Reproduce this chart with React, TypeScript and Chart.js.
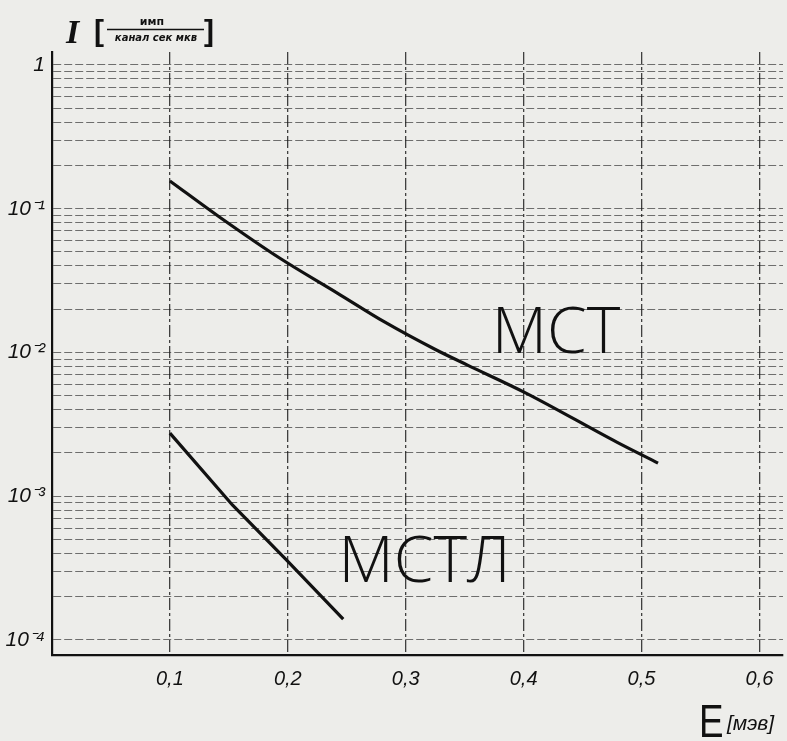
import React, { useEffect, useRef } from 'react';
import { Chart, registerables } from 'chart.js';

Chart.register(...registerables);

// MCT curve (energy E in MeV, intensity I)
const mctE = [0.1, 0.142, 0.193, 0.242, 0.282, 0.326, 0.352, 0.402, 0.479, 0.514];
const mctI = [0.156, 0.0876, 0.0454, 0.0259, 0.0163, 0.0104, 0.0082, 0.00522, 0.00238, 0.0017];
// MCTЛ curve
const mctlE = [0.1, 0.153, 0.199, 0.247];
const mctlI = [0.00275, 0.00087, 0.00036, 0.00014];

const seriesNames = ['МСТ', 'МСТЛ'];
// label anchors (left/bottom) in data coordinates
const labelE = [0.373, 0.243];
const labelI = [0.0099, 0.000253];

const xTicks = [0.1, 0.2, 0.3, 0.4, 0.5, 0.6];
const yDecades = [1, 0.1, 0.01, 0.001, 0.0001];
const yDecadeLabels = ['1', '10⁻¹', '10⁻²', '10⁻³', '10⁻⁴'];

const xTitleMain = 'E';
const xTitleUnit = '[мэв]';
const yTitleMain = 'I';
const yTitleNum = 'имп';
const yTitleDen = 'канал сек мкв';

const X_MIN = 0;
const X_MAX = 0.62;
const Y_MIN = 7.87e-5;
const Y_MAX = 1.23;

function yGridValues(): number[] {
  const vals: number[] = [];
  for (let e = -4; e <= 0; e++) {
    for (let m = 1; m <= 9; m++) {
      const v = m * Math.pow(10, e);
      if (v >= 1e-4 && v <= 1.0000001) vals.push(v);
    }
  }
  return vals;
}

const bgPlugin = {
  id: 'paperBg',
  beforeDraw(chart: any) {
    const { ctx, width, height } = chart;
    ctx.save();
    ctx.fillStyle = '#ededea';
    ctx.fillRect(0, 0, width, height);
    ctx.restore();
  },
};

const textPlugin = {
  id: 'texts',
  afterDraw(chart: any) {
    const { ctx } = chart;
    const xs = chart.scales.x;
    const ys = chart.scales.y;
    ctx.save();
    ctx.fillStyle = '#111';
    ctx.strokeStyle = '#111';
    // curve labels
    ctx.textBaseline = 'alphabetic';
    ctx.textAlign = 'left';
    ctx.font = '300 64px "Open Sans", "Lato", sans-serif';
    seriesNames.forEach((name, i) => {
      ctx.fillText(name, xs.getPixelForValue(labelE[i]), ys.getPixelForValue(labelI[i]));
    });

    // y axis title
    ctx.font = 'italic bold 34px "Liberation Serif", serif';
    ctx.fillText(yTitleMain, 66, 43);
    ctx.font = 'bold 30px "Liberation Sans", sans-serif';
    ctx.fillText('[', 94, 41);
    ctx.fillText(']', 204, 41);
    ctx.textAlign = 'center';
    ctx.font = 'bold 11px "DejaVu Sans", sans-serif';
    ctx.fillText(yTitleNum, 152, 25);
    ctx.font = 'bold italic 10px "DejaVu Sans", sans-serif';
    ctx.fillText(yTitleDen, 156, 41);
    ctx.lineWidth = 1.5;
    ctx.beginPath();
    ctx.moveTo(107, 29.5);
    ctx.lineTo(204, 29.5);
    ctx.stroke();

    // x axis title
    ctx.textAlign = 'left';
    ctx.save();
    ctx.translate(699, 737);
    ctx.scale(0.8, 1);
    ctx.font = '46px "Liberation Sans", sans-serif';
    ctx.fillText(xTitleMain, 0, 0);
    ctx.restore();
    ctx.font = 'italic 21px "Liberation Sans", sans-serif';
    ctx.fillText(xTitleUnit, 727, 730);
    ctx.restore();
  },
};

export default function App() {
  const ref = useRef<HTMLCanvasElement | null>(null);

  useEffect(() => {
    if (!ref.current) return;
    const chart = new Chart(ref.current, {
      type: 'scatter',
      data: {
        datasets: [
          {
            label: seriesNames[0],
            data: mctE.map((e, i) => ({ x: e, y: mctI[i] })),
            showLine: true,
            borderColor: '#111',
            borderWidth: 3.2,
            pointRadius: 0,
            cubicInterpolationMode: 'monotone',
          },
          {
            label: seriesNames[1],
            data: mctlE.map((e, i) => ({ x: e, y: mctlI[i] })),
            showLine: true,
            borderColor: '#111',
            borderWidth: 3.2,
            pointRadius: 0,
            tension: 0,
          },
        ],
      },
      options: {
        animation: false,
        responsive: false,
        devicePixelRatio: 1,
        layout: { padding: { top: 52, right: 4, left: 0, bottom: 0 } },
        plugins: { legend: { display: false }, tooltip: { enabled: false } },
        scales: {
          x: {
            type: 'linear',
            min: X_MIN,
            max: X_MAX,
            afterBuildTicks: (s: any) => {
              s.ticks = xTicks.map((v) => ({ value: v }));
            },
            afterFit: (s: any) => {
              s.height = 86;
            },
            ticks: {
              padding: 12,
              color: '#111',
              font: { family: '"Liberation Sans", sans-serif', size: 20, style: 'italic' },
              callback: (v: any) => Number(v).toFixed(1).replace('.', ','),
              maxRotation: 0,
            },
            grid: {
              color: 'rgba(20,20,20,0.8)',
              lineWidth: 1.3,
              drawTicks: false,
            },
            border: { display: true, color: '#111', width: 2.2, dash: [12, 3, 3, 3] },
          },
          y: {
            type: 'logarithmic',
            min: Y_MIN,
            max: Y_MAX,
            afterBuildTicks: (s: any) => {
              s.ticks = yGridValues().map((v) => ({ value: v }));
            },
            afterFit: (s: any) => {
              s.width = 52;
            },
            ticks: {
              padding: 7,
              color: '#111',
              autoSkip: false,
              font: { family: '"Liberation Sans", sans-serif', size: 21, style: 'italic' },
              callback: (v: any) => {
                const val = Number(v);
                for (let i = 0; i < yDecades.length; i++) {
                  if (Math.abs(val - yDecades[i]) / yDecades[i] < 1e-6) return yDecadeLabels[i];
                }
                return '';
              },
            },
            grid: {
              color: 'rgba(25,25,25,0.6)',
              lineWidth: 1.1,
              drawTicks: false,
            },
            border: { display: true, color: '#111', width: 2.2, dash: [8, 3] },
          },
        },
      } as any,
      plugins: [bgPlugin, textPlugin],
    });
    return () => chart.destroy();
  }, []);

  return (
    <div style={{ position: 'absolute', left: 0, top: 0, width: 787, height: 741 }}>
      <canvas ref={ref} width={787} height={741} style={{ width: 787, height: 741, display: 'block' }} />
    </div>
  );
}
